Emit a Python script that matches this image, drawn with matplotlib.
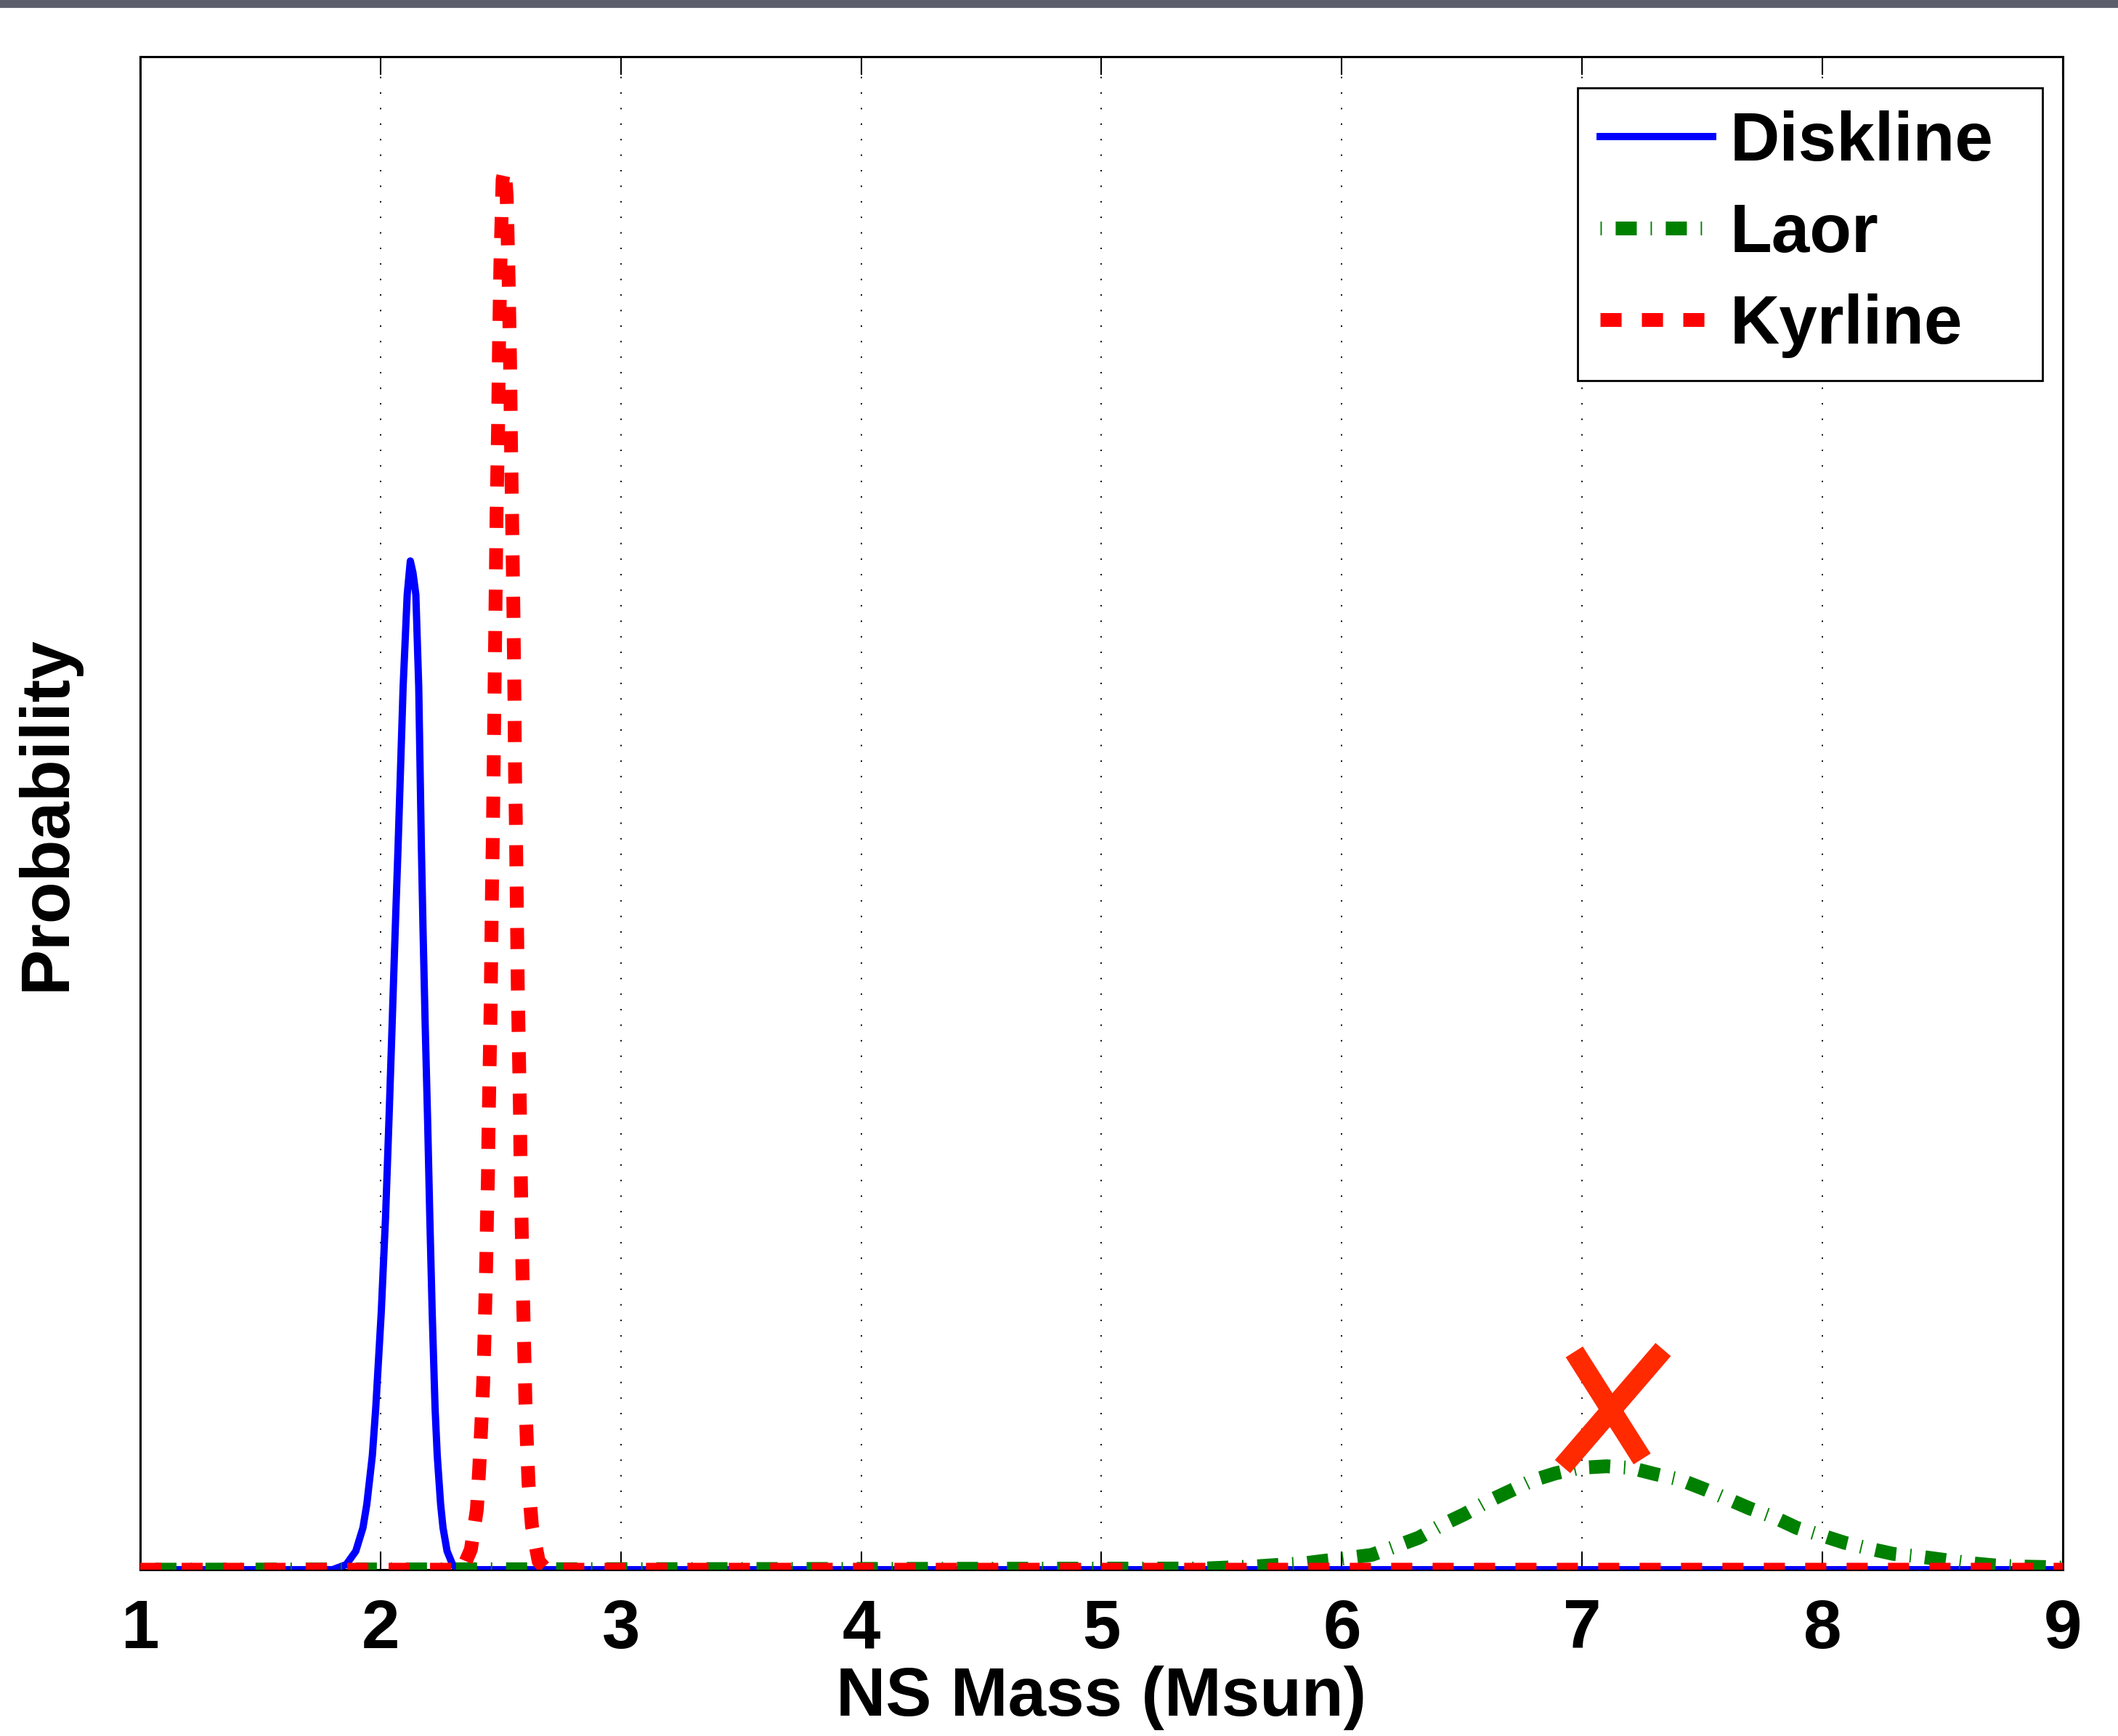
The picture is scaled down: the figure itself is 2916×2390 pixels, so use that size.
# NS mass probability curves (Diskline / Laor / Kyrline), MATLAB-style figure.

import matplotlib

matplotlib.use("Agg")
import matplotlib.pyplot as plt
import numpy as np
from matplotlib.path import Path
from matplotlib.patches import Rectangle
from matplotlib.transforms import offset_copy

plt.rcParams["font.family"] = ["Liberation Sans", "DejaVu Sans"]
plt.rcParams["font.weight"] = "bold"

# values (NS mass in Msun, probability density)
diskline_x = [1.0, 1.80, 1.857, 1.897, 1.927, 1.943, 1.966, 1.980, 2.003, 2.021,
              2.035, 2.048, 2.061, 2.073, 2.094, 2.111, 2.124, 2.135, 2.147, 2.159,
              2.170, 2.177, 2.186, 2.196, 2.205, 2.215, 2.227, 2.236, 2.250, 2.260,
              2.277, 2.300, 2.33, 9.0]
diskline_y = [0, 0, 0.03, 0.11, 0.25, 0.39, 0.68, 0.96, 1.53, 2.10,
              2.67, 3.23, 3.80, 4.30, 5.25, 5.80, 6.00, 5.93, 5.80, 5.25,
              4.30, 3.80, 3.23, 2.67, 2.10, 1.53, 0.96, 0.68, 0.39, 0.25,
              0.11, 0.03, 0, 0]

laor_x = [1.0, 5.425, 5.646, 5.75, 5.855, 6.124, 6.220, 6.320, 6.413, 6.510,
          6.599, 6.696, 6.792, 6.889, 6.991, 7.101, 7.202, 7.303, 7.405, 7.507,
          7.604, 7.698, 7.796, 7.893, 7.993, 8.093, 8.190, 8.295, 8.400, 8.504,
          8.609, 8.713, 8.818, 8.922, 9.0]
laor_y = [0, 0.007, 0.02, 0.03, 0.04, 0.088, 0.137, 0.19, 0.264, 0.33,
          0.40, 0.465, 0.53, 0.573, 0.606, 0.615, 0.606, 0.569, 0.537, 0.48,
          0.422, 0.364, 0.314, 0.249, 0.206, 0.16, 0.127, 0.094, 0.079, 0.059,
          0.04, 0.026, 0.019, 0.016, 0.012]

kyrline_x = [1.0, 2.34, 2.376, 2.401, 2.411, 2.419, 2.427, 2.432, 2.436, 2.440,
             2.443, 2.447, 2.449, 2.452, 2.455, 2.458, 2.460, 2.462, 2.464, 2.467,
             2.471, 2.475, 2.479, 2.483, 2.489, 2.493, 2.499, 2.508, 2.517,
             2.525, 2.533, 2.539, 2.543, 2.548, 2.553, 2.557, 2.560, 2.563, 2.565,
             2.567, 2.569, 2.571, 2.574, 2.577, 2.580, 2.582, 2.585, 2.588, 2.591,
             2.595, 2.599, 2.603, 2.609, 2.616, 2.630, 2.658, 2.69, 9.0]
kyrline_y = [0, 0, 0.12, 0.36, 0.61, 0.85, 1.10, 1.35, 1.59, 1.84,
             2.09, 2.34, 2.58, 2.83, 3.08, 3.33, 3.57, 3.82, 4.07, 4.32,
             4.80, 5.30, 5.80, 6.29, 6.79, 7.28, 7.78, 8.27, 8.33,
             8.17, 7.68, 7.19, 6.69, 6.20, 5.70, 5.21, 4.71, 4.46, 4.22,
             3.98, 3.73, 3.48, 3.23, 2.99, 2.74, 2.49, 2.24, 1.99, 1.75,
             1.50, 1.25, 1.00, 0.76, 0.51, 0.26, 0.05, 0, 0]

x_ticks = [1, 2, 3, 4, 5, 6, 7, 8, 9]

FS = 34  # pt, everything in the figure uses the same bold size

fig = plt.figure(figsize=(14.58, 11.95), dpi=200)

# thin gray strip along the top edge of the original screenshot
fig.patches.append(Rectangle((0, 1 - 9 / 2390), 1, 9 / 2390, transform=fig.transFigure,
                             color="#5c5f6b", zorder=0))

ax = fig.add_axes([0.0662, 0.0958, 0.9077, 0.8716])

ax.plot(diskline_x, diskline_y, color="#0000ff", lw=3.6, label="Diskline", zorder=3)
ax.plot(laor_x, laor_y, color="#008000", lw=6.84, ls=(0, (0.1, 1.0, 1.53, 1.0)),
        label="Laor", zorder=3)
ax.plot(kyrline_x, kyrline_y, color="#ff0000", lw=6.84, ls=(0, (1.53, 1.47)),
        label="Kyrline", zorder=3)

# big red cross drawn over the Laor peak
ipk = int(np.argmax(laor_y))
cross = Path([(-0.56, 0.96), (0.60, -0.87), (0.96, 1.0), (-0.76, -1.0)],
             [Path.MOVETO, Path.LINETO, Path.MOVETO, Path.LINETO])
ax.plot(laor_x[ipk], laor_y[ipk], marker=cross, ms=58, mew=10, mec="#ff2a00",
        mfc="none", ls="none", zorder=4,
        transform=offset_copy(ax.transData, fig, x=0, y=29, units="points"))

ax.set_xlim(1, 9)
ax.set_ylim(0, 9)
ax.set_xticks(x_ticks)
ax.set_yticks([])
ax.tick_params(axis="x", direction="in", top=True, length=9, width=0.75,
               pad=14, labelsize=FS)
for sp in ax.spines.values():
    sp.set_linewidth(1.1)
ax.grid(axis="x", color="k", lw=0.7, ls=(0, (1, 10)))

ax.set_xlabel("NS Mass (Msun)", fontsize=FS, fontweight="bold")
ax.xaxis.set_label_coords(0.5, -0.0965)
ax.xaxis.label.set_va("baseline")
ax.set_ylabel("Probability", fontsize=FS, fontweight="bold")
ax.yaxis.set_label_coords(-0.039, 0.5)
ax.yaxis.label.set_va("baseline")

leg = ax.legend(loc="upper left", bbox_to_anchor=(0.7476, 0.5, 0.2418, 0.4794),
                mode="expand", borderaxespad=0, fontsize=FS, handlelength=1.64,
                handletextpad=0.255, borderpad=0.33, labelspacing=0.39,
                fancybox=False, framealpha=1, edgecolor="k")
leg.get_frame().set_linewidth(1.0)

fig.savefig("out.png", dpi=200)
